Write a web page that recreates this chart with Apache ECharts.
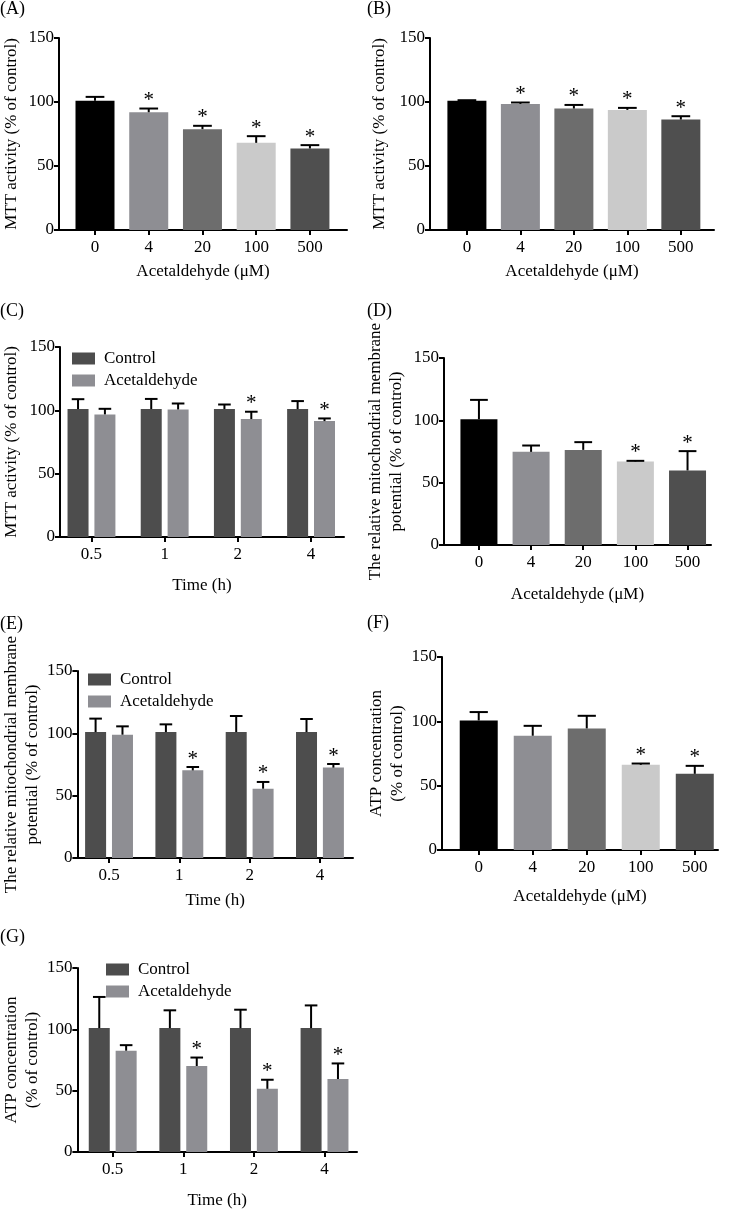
<!DOCTYPE html>
<html><head><meta charset="utf-8">
<script src="https://cdn.jsdelivr.net/npm/echarts@6/dist/echarts.min.js"></script>
<style>html,body{margin:0;padding:0;background:#fff}#c{width:733px;height:1210px}</style>
</head><body><div id="c"></div>
<script>
// ---------- data ----------
const DOSE_CATS = ['0', '4', '20', '100', '500'];
const TIME_CATS = ['0.5', '1', '2', '4'];
const Y_TICKS = [0, 50, 100, 150];
const GROUP_NAMES = ['Control', 'Acetaldehyde'];

// (A) MTT activity vs dose
const A_MEAN = [100.9, 92.0, 78.8, 68.1, 63.7];
const A_ERR  = [3.1, 2.9, 2.6, 5.2, 2.6];
const A_SIG  = [0, 1, 1, 1, 1];
// (B) MTT activity vs dose
const B_MEAN = [101.0, 98.5, 94.9, 93.8, 86.3];
const B_ERR  = [0.4, 1.1, 2.8, 1.6, 2.6];
const B_SIG  = [0, 1, 1, 1, 1];
// (C) MTT activity vs time
const C_CTRL_MEAN = [101, 101, 101, 101];
const C_CTRL_ERR  = [7.8, 8.0, 3.6, 6.3];
const C_ACET_MEAN = [96.8, 100.7, 93.1, 91.5];
const C_ACET_ERR  = [4.4, 4.7, 5.8, 2.1];
const C_ACET_SIG  = [0, 0, 1, 1];
// (D) mitochondrial membrane potential vs dose
const D_MEAN = [100.9, 74.7, 76.3, 67.0, 59.8];
const D_ERR  = [15.5, 5.1, 6.2, 0.5, 15.5];
const D_SIG  = [0, 0, 0, 1, 1];
// (E) mitochondrial membrane potential vs time
const E_CTRL_MEAN = [101, 101, 101, 101];
const E_CTRL_ERR  = [10.8, 6.2, 12.9, 10.5];
const E_ACET_MEAN = [98.9, 70.3, 55.6, 72.5];
const E_ACET_ERR  = [6.7, 2.7, 5.4, 2.9];
const E_ACET_SIG  = [0, 1, 1, 1];
// (F) ATP concentration vs dose
const F_MEAN = [100.7, 88.8, 94.5, 66.2, 59.2];
const F_ERR  = [6.5, 7.7, 9.8, 1.0, 6.2];
const F_SIG  = [0, 0, 0, 1, 1];
// (G) ATP concentration vs time
const G_CTRL_MEAN = [101, 101, 101, 101];
const G_CTRL_ERR  = [25.4, 14.5, 15.0, 18.5];
const G_ACET_MEAN = [82.6, 70.1, 51.5, 59.5];
const G_ACET_ERR  = [4.5, 6.9, 7.4, 12.7];
const G_ACET_SIG  = [0, 1, 1, 1];

// ---------- style ----------
const FONT = '"Liberation Serif", "Times New Roman", serif';
const FS = 17;
const DOSE_COLORS = ['#000000', '#8e8e93', '#6d6d6d', '#cacaca', '#4f4f4f'];
const GROUP_COLORS = ['#4d4d4d', '#8e8e93'];
const NOSIG = [0, 0, 0, 0];

const panels = [
  {label: '(A)', lpos: [0, 0], kind: 'dose', grid: {left: 57, top: 38, width: 290, height: 192}, xr: [-0.67, 4.69],
   yTitle: 'MTT activity (% of control)', yGap: 37, xTitle: 'Acetaldehyde (μM)', xGap: 33,
   mean: A_MEAN, err: A_ERR, sig: A_SIG, barW: 39},
  {label: '(B)', lpos: [367, 0], kind: 'dose', grid: {left: 430, top: 38, width: 284, height: 192}, xr: [-0.69, 4.62],
   yTitle: 'MTT activity (% of control)', yGap: 40, xTitle: 'Acetaldehyde (μM)', xGap: 33,
   mean: B_MEAN, err: B_ERR, sig: B_SIG, barW: 39},
  {label: '(C)', lpos: [0, 302], kind: 'time', grid: {left: 59, top: 347, width: 285, height: 190}, xr: [-0.43, 3.45],
   yTitle: 'MTT activity (% of control)', yGap: 38, xTitle: 'Time (h)', xGap: 40,
   groups: [[C_CTRL_MEAN, C_CTRL_ERR, NOSIG], [C_ACET_MEAN, C_ACET_ERR, C_ACET_SIG]], legend: [72, 350]},
  {label: '(D)', lpos: [367, 302], kind: 'dose', grid: {left: 444, top: 358, width: 267, height: 187}, xr: [-0.67, 4.45],
   yTitle: 'The relative mitochondrial membrane\npotential (% of control)', yGap: 37, xTitle: 'Acetaldehyde (μM)', xGap: 41,
   mean: D_MEAN, err: D_ERR, sig: D_SIG, barW: 37},
  {label: '(E)', lpos: [0, 615], kind: 'time', grid: {left: 71, top: 671, width: 282, height: 187}, xr: [-0.45, 3.47],
   yTitle: 'The relative mitochondrial membrane\npotential (% of control)', yGap: 32, xTitle: 'Time (h)', xGap: 34,
   groups: [[E_CTRL_MEAN, E_CTRL_ERR, NOSIG], [E_ACET_MEAN, E_ACET_ERR, E_ACET_SIG]], legend: [88, 671]},
  {label: '(F)', lpos: [367, 614], kind: 'dose', grid: {left: 442, top: 657, width: 276, height: 193}, xr: [-0.68, 4.43],
   yTitle: 'ATP concentration\n(% of control)', yGap: 34, xTitle: 'Acetaldehyde (μM)', xGap: 38,
   mean: F_MEAN, err: F_ERR, sig: F_SIG, barW: 38},
  {label: '(G)', lpos: [0, 928], kind: 'time', grid: {left: 69, top: 968, width: 288, height: 188}, xr: [-0.5, 3.46],
   yTitle: 'ATP concentration\n(% of control)', yGap: 29, xTitle: 'Time (h)', xGap: 40,
   groups: [[G_CTRL_MEAN, G_CTRL_ERR, NOSIG], [G_ACET_MEAN, G_ACET_ERR, G_ACET_SIG]], legend: [106, 961]}
];

const GROUP_BAR_W = 21;
const GROUP_GAP = 0.28;

function errRender(offsetPx, capW) {
  return function (params, api) {
    const x = api.value(0), m = api.value(1), e = api.value(2), s = api.value(3);
    const base = api.coord([x, m]);
    const top = api.coord([x, m + e]);
    const cx = base[0] + offsetPx;
    const ch = [
      {type: 'line', shape: {x1: cx, y1: base[1], x2: cx, y2: top[1]}, style: {stroke: '#000', lineWidth: 2}},
      {type: 'line', shape: {x1: cx - capW / 2, y1: top[1], x2: cx + capW / 2, y2: top[1]}, style: {stroke: '#000', lineWidth: 2}}
    ];
    if (s) {
      ch.push({type: 'text', x: cx, y: top[1] - 8,
        style: {text: '*', fontSize: 21, fontFamily: FONT, fill: '#000', align: 'center', verticalAlign: 'middle'}});
    }
    return {type: 'group', children: ch};
  };
}

const option = {animation: false, backgroundColor: '#fff', grid: [], xAxis: [], yAxis: [], series: [], title: [], legend: []};

panels.forEach((p, k) => {
  const cats = p.kind === 'dose' ? DOSE_CATS : TIME_CATS;
  const idx = cats.map((_, i) => i);
  option.grid.push(Object.assign({containLabel: false}, p.grid));
  option.title.push({text: p.label, left: p.lpos[0], top: p.lpos[1], padding: 0,
    textStyle: {fontFamily: FONT, fontSize: 18, fontWeight: 'normal', color: '#000'}});
  option.xAxis.push({
    type: 'value', gridIndex: k, min: p.xr[0], max: p.xr[1],
    name: p.xTitle, nameLocation: 'middle', nameGap: p.xGap,
    nameTextStyle: {fontFamily: FONT, fontSize: FS, color: '#000'},
    axisLine: {show: true, onZero: false, lineStyle: {color: '#000', width: 2}},
    axisTick: {show: true, customValues: idx, length: 5, lineStyle: {color: '#000', width: 2}},
    axisLabel: {show: true, customValues: idx, margin: 9, formatter: v => cats[Math.round(v)],
      fontFamily: FONT, fontSize: FS, color: '#000'},
    splitLine: {show: false}
  });
  option.yAxis.push({
    type: 'value', gridIndex: k, min: 0, max: 150, interval: 50,
    name: p.yTitle, nameLocation: 'middle', nameGap: p.yGap, nameRotate: 90,
    nameTextStyle: {fontFamily: FONT, fontSize: FS, color: '#000', lineHeight: 21, align: 'center'},
    axisLine: {show: true, onZero: false, lineStyle: {color: '#000', width: 2}},
    axisTick: {show: true, length: 5, lineStyle: {color: '#000', width: 2}},
    axisLabel: {show: true, margin: 5, fontFamily: FONT, fontSize: FS, color: '#000',
      customValues: Y_TICKS},
    splitLine: {show: false}
  });
  if (p.kind === 'dose') {
    option.series.push({
      type: 'bar', xAxisIndex: k, yAxisIndex: k, barWidth: p.barW,
      data: p.mean.map((v, i) => ({value: [i, v], itemStyle: {color: DOSE_COLORS[i]}}))
    });
    option.series.push({
      type: 'custom', xAxisIndex: k, yAxisIndex: k, z: 5, clip: false,
      renderItem: errRender(0, p.barW * 0.48),
      data: p.mean.map((v, i) => [i, v, p.err[i], p.sig[i]])
    });
  } else {
    const step = GROUP_BAR_W * (1 + GROUP_GAP);
    p.groups.forEach((g, gi) => {
      option.series.push({
        type: 'bar', name: GROUP_NAMES[gi], xAxisIndex: k, yAxisIndex: k,
        barWidth: GROUP_BAR_W, barGap: (GROUP_GAP * 100) + '%',
        itemStyle: {color: GROUP_COLORS[gi]},
        data: g[0].map((v, i) => [i, v])
      });
    });
    p.groups.forEach((g, gi) => {
      const off = (gi - 0.5) * step;
      option.series.push({
        type: 'custom', xAxisIndex: k, yAxisIndex: k, z: 5, clip: false,
        renderItem: errRender(off, GROUP_BAR_W * 0.6),
        data: g[0].map((v, i) => [i, v, g[1][i], g[2][i]])
      });
    });
    option.legend.push({
      data: GROUP_NAMES, left: p.legend[0], top: p.legend[1], orient: 'vertical', padding: 0,
      itemWidth: 23, itemHeight: 12, itemGap: 5, icon: 'rect', selectedMode: false,
      textStyle: {fontFamily: FONT, fontSize: FS, color: '#000', padding: [0, 0, 0, 4]}
    });
  }
});

const chart = echarts.init(document.getElementById('c'), null, {renderer: 'canvas'});
chart.setOption(option);
</script>
</body></html>
